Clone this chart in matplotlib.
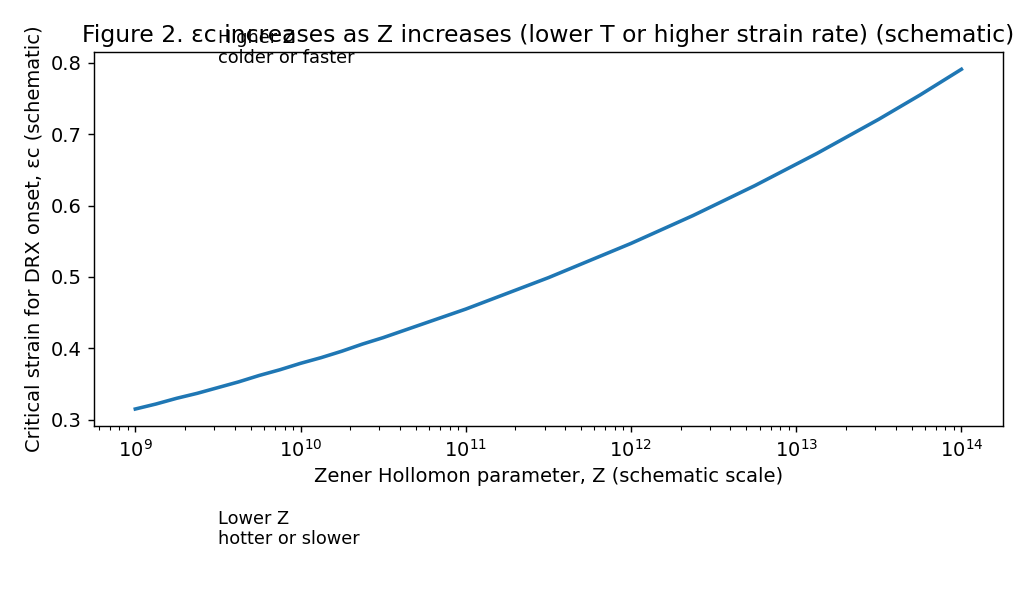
import numpy as np
import matplotlib
matplotlib.use("Agg")
import matplotlib.pyplot as plt

plt.rcParams["font.size"] = 11

# log10(Z) at eighth decades
z_exp = [9.0, 9.125, 9.25, 9.375, 9.5, 9.625, 9.75, 9.875,
         10.0, 10.125, 10.25, 10.375, 10.5, 10.625, 10.75, 10.875,
         11.0, 11.125, 11.25, 11.375, 11.5, 11.625, 11.75, 11.875,
         12.0, 12.125, 12.25, 12.375, 12.5, 12.625, 12.75, 12.875,
         13.0, 13.125, 13.25, 13.375, 13.5, 13.625, 13.75, 13.875, 14.0]
# critical strain for DRX onset at those Z
eps_c = [0.315, 0.322, 0.330, 0.337, 0.345, 0.353, 0.362, 0.370,
         0.379, 0.387, 0.396, 0.406, 0.415, 0.425, 0.435, 0.445,
         0.455, 0.466, 0.477, 0.488, 0.499, 0.511, 0.523, 0.535,
         0.547, 0.560, 0.573, 0.586, 0.600, 0.614, 0.628, 0.643,
         0.658, 0.673, 0.689, 0.705, 0.721, 0.738, 0.755, 0.773, 0.791]

title = "Figure 2. \u03b5c increases as Z increases (lower T or higher strain rate) (schematic)"
x_label = "Zener Hollomon parameter, Z (schematic scale)"
y_label = "Critical strain for DRX onset, \u03b5c (schematic)"
high_note = "Higher Z\ncolder or faster"
low_note = "Lower Z\nhotter or slower"

z = 10.0 ** np.array(z_exp)

fig = plt.figure(figsize=(8, 598 / 128), dpi=128)
ax = fig.add_axes([94 / 1024, 1 - 426 / 598, (1002.7 - 94) / 1024, (426 - 52.3) / 598])

ax.plot(z, eps_c, color="#1f77b4", linewidth=2)
ax.set_xscale("log")
ax.set_title(title)
ax.set_xlabel(x_label)
ax.set_ylabel(y_label)

# baseline of the last line is used for multi-line text
fig.text(0.2125, 1 - 63.3 / 598, high_note, va="baseline", ha="left", fontsize=10)
fig.text(0.2125, 1 - 544.3 / 598, low_note, va="baseline", ha="left", fontsize=10)

fig.savefig("out.png", dpi=128)
